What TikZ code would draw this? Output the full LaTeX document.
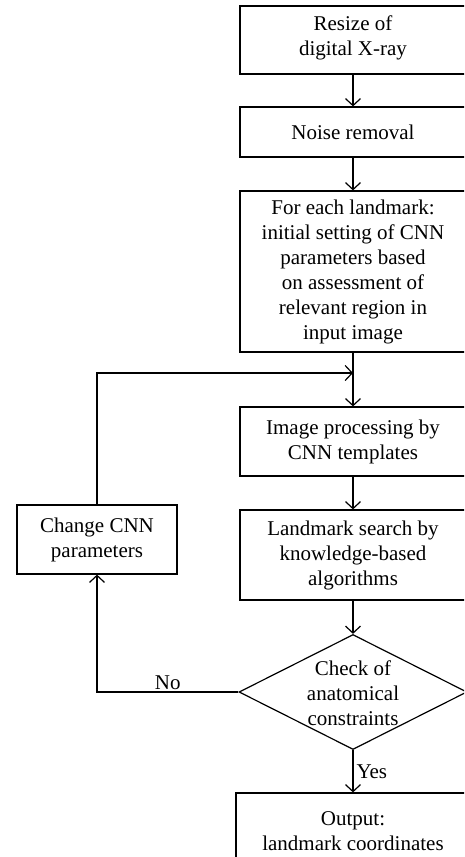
\documentclass[tikz,border=0pt]{standalone}
\usepackage{fontspec}
\setmainfont{Liberation Serif}
\usetikzlibrary{shapes.geometric,arrows.meta}

\begin{document}
\begin{tikzpicture}[x=1pt,y=-1pt,
  every node/.style={font=\fontsize{21}{25}\selectfont},
  box/.style={draw, line width=1.2pt, align=center, inner sep=0pt},
  decision/.style={draw, diamond, line width=1.2pt, inner sep=0pt,
                   minimum width=228pt, minimum height=115pt},
  link/.style={line width=1.2pt,
               -{Straight Barb[length=7pt,width=15pt,line width=1.2pt]}}]
\useasboundingbox (0,0) rectangle (464,857);
\clip (0,0) rectangle (464,857);

% main column of process steps
\node[box, minimum width=226pt, minimum height=68pt, text depth=8pt]  (resize) at (353,40) {Resize of\\digital X-ray};
\node[box, minimum width=226pt, minimum height=50pt]  (noise)  at (353,132)   {Noise removal};
\node[box, minimum width=226pt, minimum height=161pt] (init)   at (353,271.5) {For each landmark:\\initial setting of CNN\\parameters based\\on assessment of\\relevant region in\\input image};
\node[box, minimum width=226pt, minimum height=69pt]  (cnn)    at (353,441.5) {Image processing by\\CNN templates};
\node[box, minimum width=226pt, minimum height=90pt]  (search) at (353,555)   {Landmark search by\\knowledge-based\\algorithms};
\node[decision] (check) at (353,692) {};
\node[align=center] (checktext) at (353,693) {Check of\\anatomical\\constraints};
\node[box, minimum width=234pt, minimum height=76pt]  (output) at (353,831)   {Output:\\landmark coordinates};

% feedback branch
\node[box, minimum width=160pt, minimum height=69pt]  (change) at (97,539.5)  {Change CNN\\parameters};
\coordinate (nocorner) at (97,692);
\coordinate (upcorner) at (97,373);
\coordinate (joint)    at (353,373);

% connectors
\draw[link] (resize) -- (noise);
\draw[link] (noise)  -- (init);
\draw[link] (init)   -- (cnn);
\draw[link] (cnn)    -- (search);
\draw[link] (search) -- (check);
\draw[link] (check)  -- node[right, inner sep=3pt] (yes) {Yes} (output);
\draw[link] (check.west) -- node[above, inner sep=2pt] (no) {No} (nocorner) -- (change.south);
\draw[link] (change.north) -- (upcorner) -- (joint);
\end{tikzpicture}
\end{document}
